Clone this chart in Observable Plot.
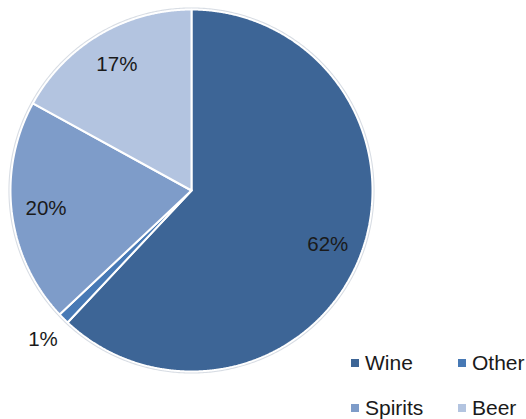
<!DOCTYPE html>
<html>
<head>
<meta charset="utf-8">
<script src="https://cdn.jsdelivr.net/npm/d3@7"></script>
<script src="https://cdn.jsdelivr.net/npm/@observablehq/plot@0.6"></script>
<style>
  html, body { margin: 0; padding: 0; background: #fff; }
  #wrap { position: relative; width: 526px; height: 419px; overflow: hidden; font-family: "Liberation Sans", Arial, sans-serif; }
  .item { position: absolute; display: flex; align-items: center; height: 24px; white-space: nowrap; font-size: 21px; color: #1a1a1a; line-height: 24px; }
  .item .sw { width: 8px; height: 8px; margin-right: 6px; display: inline-block; flex: none; }
</style>
</head>
<body>
<div id="wrap"></div>
<script>
const categories = ["Wine", "Other", "Spirits", "Beer"];
const values = [62, 1, 20, 17];
const colors = ["#3d6596", "#4779b5", "#7e9cc9", "#b3c4e0"];
const labels = ["62%", "1%", "20%", "17%"];
const legendOrder = ["Wine", "Other", "Spirits", "Beer"];

const total = d3.sum(values);
const pie = d3.pie().sort(null).value(d => d)(values);

// wedge outlines from the pie angles (clockwise from 12 o'clock)
const wedges = pie.map((p, i) => {
  const pts = [{x: 0, y: 0}];
  const n = Math.max(2, Math.ceil((p.endAngle - p.startAngle) / 0.005));
  for (let k = 0; k <= n; k++) {
    const a = p.startAngle + (p.endAngle - p.startAngle) * k / n;
    pts.push({x: Math.sin(a), y: Math.cos(a)});
  }
  pts.push({x: 0, y: 0});
  return {name: categories[i], color: colors[i], pts};
});

const labelData = pie.map((p, i) => {
  const a = (p.startAngle + p.endAngle) / 2;
  const rr = values[i] / total < 0.05 ? 1.16 : 0.81;
  return {text: labels[i], x: rr * Math.sin(a), y: rr * Math.cos(a)};
});

const ring = d3.range(0, 2 * Math.PI + 0.01, 0.01).map(a => ({x: 1.006 * Math.sin(a), y: 1.006 * Math.cos(a)}));

const chart = Plot.plot({
  width: 526,
  height: 419,
  margin: 0,
  x: {domain: [-1, 1], range: [10, 372], axis: null},
  y: {domain: [-1, 1], range: [371, 9], axis: null},
  style: {fontFamily: '"Liberation Sans", Arial, sans-serif', background: "#fff"},
  marks: [
    Plot.line(ring, {x: "x", y: "y", stroke: "#d8dde4", strokeWidth: 2}),
    ...wedges.map(w => Plot.line(w.pts, {x: "x", y: "y", fill: w.color, stroke: "#ffffff", strokeWidth: 2, strokeLinejoin: "miter"})),
    Plot.text(labelData, {x: "x", y: "y", text: "text", fontSize: 20.5, fill: "#1a1a1a"})
  ]
});

const wrap = document.getElementById("wrap");
wrap.appendChild(chart);

// legend: 2 columns x 2 rows, bottom right
const colX = [351, 458];
const rowY = [351, 396];
legendOrder.forEach((name, k) => {
  const i = categories.indexOf(name);
  const item = document.createElement("div");
  item.className = "item";
  item.style.left = colX[k % 2] + "px";
  item.style.top = rowY[Math.floor(k / 2)] + "px";
  item.innerHTML = `<span class="sw" style="background:${colors[i]}"></span><span>${name}</span>`;
  wrap.appendChild(item);
});
</script>
</body>
</html>
